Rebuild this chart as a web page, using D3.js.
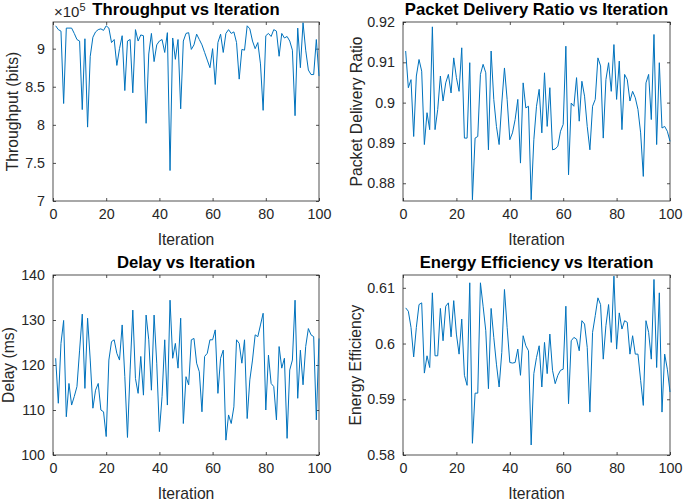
<!DOCTYPE html>
<html>
<head>
<meta charset="utf-8">
<script src="https://cdn.jsdelivr.net/npm/d3@7"></script>
<style>
  body { margin: 0; background: #fff; }
  svg { display: block; font-family: "Liberation Sans", Arial, sans-serif; }
</style>
</head>
<body>
<svg id="chart" width="685" height="503"></svg>
<script>
// values, iteration 1..100
var throughputE5 = [9.30,9.25,9.23,8.28,9.27,9.27,9.27,9.20,9.12,9.10,
  8.20,9.13,7.97,8.90,9.15,9.22,9.25,9.26,9.24,9.30,
  9.27,9.08,9.12,8.78,9.00,9.17,8.45,9.10,9.12,8.42,
  9.25,9.10,9.18,9.17,8.02,8.93,9.20,8.83,9.05,9.10,
  9.12,8.95,9.21,7.40,9.14,8.86,9.12,8.21,9.10,9.20,
  9.21,8.99,9.05,9.19,9.12,9.05,8.95,8.85,8.75,9.00,
  8.53,9.08,9.19,8.95,9.20,9.25,9.20,9.22,9.08,8.60,
  8.99,8.98,9.30,9.26,9.10,9.00,9.08,8.80,8.19,9.17,
  9.20,9.16,9.25,9.23,8.90,9.20,9.14,9.16,9.10,8.98,
  8.12,9.27,8.75,9.34,8.98,8.72,8.66,8.66,9.12,8.64];

var pdr = [0.9128,0.9037,0.9057,0.8916,0.9066,0.9107,0.9078,0.8896,0.8975,0.8933,
  0.9188,0.8933,0.8983,0.9066,0.9004,0.9049,0.9070,0.9024,0.9111,0.9062,
  0.9028,0.9136,0.8912,0.8912,0.9099,0.8759,0.8912,0.8916,0.9070,0.9095,
  0.9074,0.8883,0.9128,0.9008,0.8941,0.8896,0.8999,0.9086,0.9008,0.8908,
  0.8925,0.8958,0.9008,0.8850,0.9049,0.8987,0.8991,0.8759,0.8908,0.8991,
  0.9033,0.8925,0.9074,0.8941,0.9037,0.8883,0.8885,0.8892,0.8929,0.8946,
  0.9140,0.8821,0.8999,0.8991,0.9062,0.8954,0.9053,0.9016,0.8941,0.8883,
  0.8991,0.9008,0.9111,0.9091,0.8912,0.9057,0.9099,0.9028,0.9144,0.9008,
  0.9103,0.8933,0.9070,0.9057,0.9004,0.9028,0.9012,0.8983,0.8925,0.8817,
  0.9049,0.9070,0.8958,0.9169,0.8896,0.9099,0.8937,0.8941,0.8929,0.8904];

var delay = [121.5,111.5,124.8,129.9,108.5,115.9,111.1,113.0,115.2,123.3,
  131.3,114.8,130.4,121.1,110.4,114.4,115.9,110.0,109.6,104.1,
  121.1,125.2,125.6,122.6,121.1,128.9,117.4,103.9,118.9,132.2,
  117.0,113.7,121.9,113.3,131.1,125.6,114.4,131.1,120.4,105.2,
  113.0,125.6,111.1,134.4,121.5,124.8,119.3,130.4,107.0,117.4,
  115.6,125.6,125.9,120.4,118.5,109.6,121.9,122.6,125.6,125.6,
  127.8,113.7,121.5,123.3,103.3,108.9,107.0,110.7,125.6,124.8,
  120.4,125.6,108.1,116.7,121.1,126.7,126.3,128.9,131.5,110.0,
  122.2,115.9,115.2,107.8,124.1,119.3,121.5,103.7,118.9,121.1,
  134.4,112.6,123.3,115.6,124.1,128.1,126.7,126.3,107.8,125.9];

var energy = [0.6064,0.6058,0.6029,0.5976,0.6029,0.6070,0.6073,0.5947,0.5978,0.5957,
  0.6091,0.5978,0.5978,0.6063,0.6005,0.6067,0.6073,0.6012,0.6077,0.6017,
  0.5981,0.6044,0.5943,0.5925,0.6109,0.5821,0.5911,0.5911,0.6109,0.6067,
  0.6023,0.5919,0.6063,0.6011,0.5963,0.5922,0.5984,0.6097,0.6029,0.5966,
  0.5965,0.5966,0.5990,0.5943,0.6014,0.5996,0.5987,0.5818,0.5946,0.5975,
  0.5996,0.5922,0.6002,0.5946,0.6017,0.5952,0.5928,0.5943,0.5952,0.5954,
  0.6067,0.5892,0.6005,0.6011,0.6008,0.5987,0.6041,0.6035,0.5993,0.5877,
  0.6020,0.6050,0.6082,0.6070,0.5972,0.6032,0.6070,0.6002,0.6121,0.5990,
  0.6055,0.6026,0.6041,0.6038,0.5981,0.6014,0.5981,0.5981,0.5934,0.5889,
  0.6041,0.6020,0.5972,0.6115,0.5957,0.6091,0.5877,0.5981,0.5954,0.5913];

var xTicks = [0, 20, 40, 60, 80, 100];
var throughputTicks = [7, 7.5, 8, 8.5, 9];
var pdrTicks = [0.88, 0.89, 0.9, 0.91, 0.92];
var delayTicks = [100, 110, 120, 130, 140];
var energyTicks = [0.58, 0.59, 0.6, 0.61];

var titles = ["Throughput vs Iteration", "Packet Delivery Ratio vs Iteration",
  "Delay vs Iteration", "Energy Efficiency vs Iteration"];
var yLabels = ["Throughput (bits)", "Packet Delivery Ratio", "Delay (ms)", "Energy Efficiency"];

var panels = [
  { data: throughputE5, ticks: throughputTicks, domain: [7, 9.35], box: [53, 319, 22, 201], ylx: 13 },
  { data: pdr, ticks: pdrTicks, domain: [0.8756, 0.92], box: [403, 670, 22, 201], ylx: 357 },
  { data: delay, ticks: delayTicks, domain: [100, 140], box: [53, 319, 275, 455], ylx: 9 },
  { data: energy, ticks: energyTicks, domain: [0.58, 0.6123], box: [403, 670, 275, 455], ylx: 356 }
];

var svg = d3.select("#chart");
var ink = "#262626";

panels.forEach(function(p, k) {
  var b = p.box;
  var x = d3.scaleLinear().domain([0, 100]).range([b[0], b[1]]);
  var y = d3.scaleLinear().domain(p.domain).range([b[3], b[2]]);
  var g = svg.append("g");

  // axes box
  g.append("rect")
    .attr("x", b[0]).attr("y", b[2])
    .attr("width", b[1] - b[0]).attr("height", b[3] - b[2])
    .attr("fill", "#fff").attr("stroke", ink).attr("stroke-width", 0.8);

  // ticks on all four sides, pointing in
  var fmt = function(v) { return String(+v.toFixed(3)); };
  g.append("g").attr("transform", "translate(0," + b[3] + ")")
    .call(d3.axisBottom(x).tickValues(xTicks).tickSize(-3).tickPadding(8).tickFormat(fmt));
  g.append("g").attr("transform", "translate(0," + b[2] + ")")
    .call(d3.axisTop(x).tickValues(xTicks).tickSize(-3).tickFormat(""));
  g.append("g").attr("transform", "translate(" + b[0] + ",0)")
    .call(d3.axisLeft(y).tickValues(p.ticks).tickSize(-3).tickPadding(8).tickFormat(fmt));
  g.append("g").attr("transform", "translate(" + b[1] + ",0)")
    .call(d3.axisRight(y).tickValues(p.ticks).tickSize(-3).tickFormat(""));

  g.selectAll(".domain").remove();
  g.selectAll(".tick line").attr("stroke", ink).attr("stroke-width", 0.8);
  g.selectAll(".tick text").attr("fill", ink).style("font-size", "14.3px")
    .style("font-family", "'Liberation Sans', Arial, sans-serif");

  // the line
  var line = d3.line()
    .x(function(d, i) { return x(i + 1); })
    .y(function(d) { return y(d); });
  g.append("path").datum(p.data)
    .attr("d", line)
    .attr("fill", "none")
    .attr("stroke", "#0072BD")
    .attr("stroke-width", 1);

  // title
  g.append("text")
    .attr("x", (b[0] + b[1]) / 2)
    .attr("y", b[2] - 7)
    .attr("text-anchor", "middle")
    .attr("font-weight", "bold")
    .attr("font-size", 16.7)
    .attr("fill", "#000")
    .text(titles[k]);

  // x label
  g.append("text")
    .attr("x", (b[0] + b[1]) / 2)
    .attr("y", b[3] + 44)
    .attr("text-anchor", "middle")
    .attr("font-size", 15.7)
    .attr("fill", ink)
    .text("Iteration");

  // y label
  g.append("text")
    .attr("transform", "translate(" + (p.ylx + 5) + "," + ((b[2] + b[3]) / 2) + ") rotate(-90)")
    .attr("text-anchor", "middle")
    .attr("font-size", 15.7)
    .attr("fill", ink)
    .text(yLabels[k]);
});

// exponent label for the throughput axis
var expo = svg.append("text")
  .attr("x", 54).attr("y", 17)
  .attr("font-size", 15)
  .attr("fill", ink);
expo.append("tspan").text("\u00d710");
expo.append("tspan").attr("dy", -6).attr("font-size", 11).text("5");
</script>
</body>
</html>
